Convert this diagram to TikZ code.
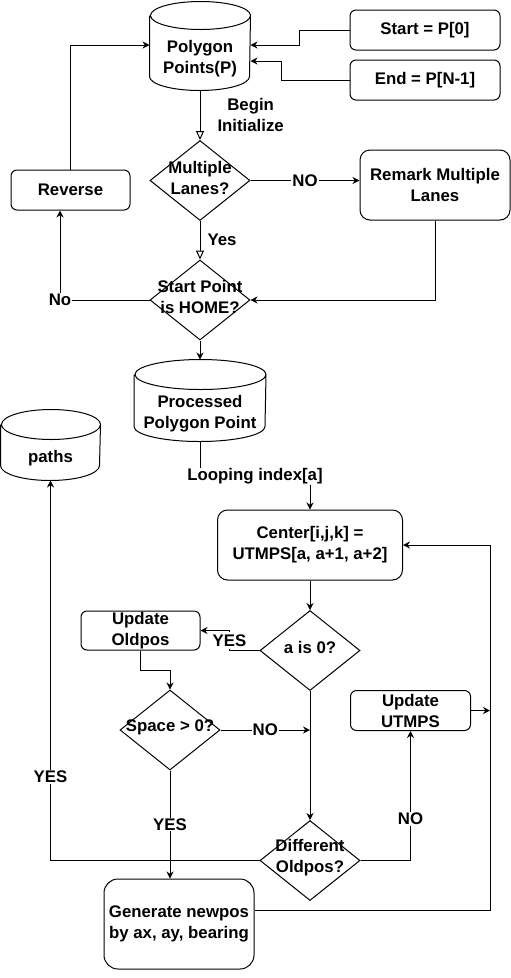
\documentclass[tikz,border=0pt]{standalone}
\usepackage{fontspec}
\setmainfont{Liberation Sans}
\usetikzlibrary{arrows.meta, shapes.geometric, calc}

\begin{document}
\begin{tikzpicture}[x=1pt, y=1pt, line width=1pt,
			font=\bfseries\fontsize{16.8}{21}\selectfont,
			box/.style={draw, rounded corners=6, align=center, inner sep=0},
			dbase/.style={inner sep=0},
			dblabel/.style={label={[align=center, yshift=-13pt]center:#1}},
			decision/.style={draw, diamond, inner sep=0, minimum width=100, minimum height=80},
			dlabel/.style={label={[align=center, yshift=3pt]center:#1}},
			lbl/.style={fill=white, inner sep=1pt, align=center},
			note/.style={inner sep=1pt, align=center},
			arr/.style={-{Stealth[length=7pt, width=7pt]}},
			openarr/.style={-{Triangle[open, length=9pt, width=8pt]}}]
			\useasboundingbox (0, 0) rectangle (511, -978);
			
			\node[dbase, minimum width=100, minimum height=88, dblabel={Polygon\\Points(P)}] (pp) at (200, -46) {};
			\node[dbase, minimum width=131, minimum height=81, dblabel={Processed\\Polygon Point}] (proc) at (200, -400.5) {};
			\node[dbase, minimum width=99, minimum height=70, dblabel={paths}] (paths) at (50.5, -445) {};
			\foreach \n/\rx/\ry in {pp/50/14, proc/65.5/15, paths/49.5/15}
				\draw ([yshift=-\ry]\n.north west) -- ([yshift=\ry]\n.south west)
					arc[start angle=180, end angle=360, x radius=\rx, y radius=\ry]
					-- ([yshift=-\ry]\n.north east)
					arc[start angle=0, end angle=360, x radius=\rx, y radius=\ry];
			
			\node[box, minimum width=150, minimum height=40] (st) at (425, -30) {Start = P[0]};
			\node[box, minimum width=150, minimum height=40] (en) at (425, -80) {End = P[N-1]};
			\node[box, minimum width=150, minimum height=70, rounded corners=10] (rml) at (435, -185) {Remark Multiple\\Lanes};
			\node[box, minimum width=119, minimum height=40] (rev) at (70.5, -190) {Reverse};
			\node[box, minimum width=185, minimum height=70, rounded corners=10] (cen) at (310, -545) {Center[i,j,k] =\\UTMPS[a, a+1, a+2]};
			\node[box, minimum width=119, minimum height=39] (uo) at (140.5, -630.5) {Update\\Oldpos};
			\node[box, minimum width=120, minimum height=40] (uu) at (410.5, -710.5) {Update\\UTMPS};
			\node[box, minimum width=150, minimum height=90, rounded corners=14] (gen) at (179, -924) {Generate newpos\\by ax, ay, bearing};
			
			\node[decision, dlabel={Multiple\\Lanes?}] (ml) at (200, -180.5) {};
			\node[decision, dlabel={Start Point\\is HOME?}] (shh) at (200, -300) {};
			\node[decision, dlabel={a is 0?}] (az) at (310, -650.5) {};
			\node[decision, dlabel={Space > 0?}] (sp) at (170, -730) {};
			\node[decision, dlabel={Different\\Oldpos?}] (dop) at (310, -860.5) {};
			
			\coordinate (uuout) at (490, -710.5);
			
			\draw[arr] (st.west) -- ++(-50, 0) |- ([yshift=1]pp.east);
			\draw[arr] (en.west) -- ++(-68, 0) |- ([yshift=-15]pp.east);
			\draw[arr] (rev.north) |- ([yshift=1]pp.west);
			\draw[openarr] (pp.south) -- (ml.north) node[note, midway, right=16pt] {Begin\\Initialize};
			\draw[arr] (ml.east) -- (ml.east -| rml.west) node[lbl, midway] {NO};
			\draw[openarr] (ml.south) -- (shh.north) node[note, midway, right=6pt] {Yes};
			\draw[arr] (rml.south) |- (shh.east);
			\draw[arr] (shh.west) -| node[lbl, pos=0.5] {No} ([xshift=-10.5]rev.south);
			\draw[arr] (shh.south) -- (proc.north);
			\draw[arr] (proc.south) -- ++(0, -35) -| node[lbl, pos=0.25] {Looping index[a]} (cen.north);
			\draw[arr] (cen.south) -- (az.north);
			\draw[arr] (az.west) -- ++(-30, 0) |- node[lbl, pos=0.25, inner sep=3pt] {YES} (uo.east);
			\draw[arr] (uo.south) -- ++(0, -19.5) -| (sp.north);
			\draw[arr] (sp.east) -- (sp.east -| az.south) node[lbl, midway] {NO};
			\draw[arr] (az.south) -- (dop.north);
			\draw[arr] (dop.east) -| node[lbl, pos=0.66] {NO} (uu.south);
			\draw[arr] (uu.east) -- (uuout);
			\draw[arr] ([yshift=14]gen.east) -- ++(236, 0) |- (cen.east);
			\draw[arr] (sp.south) -- (gen.north -| sp.south) node[lbl, midway] {YES};
			\draw[arr] (dop.west) -| node[lbl, pos=0.61] {YES} (paths.south);
		\end{tikzpicture}
\end{document}
